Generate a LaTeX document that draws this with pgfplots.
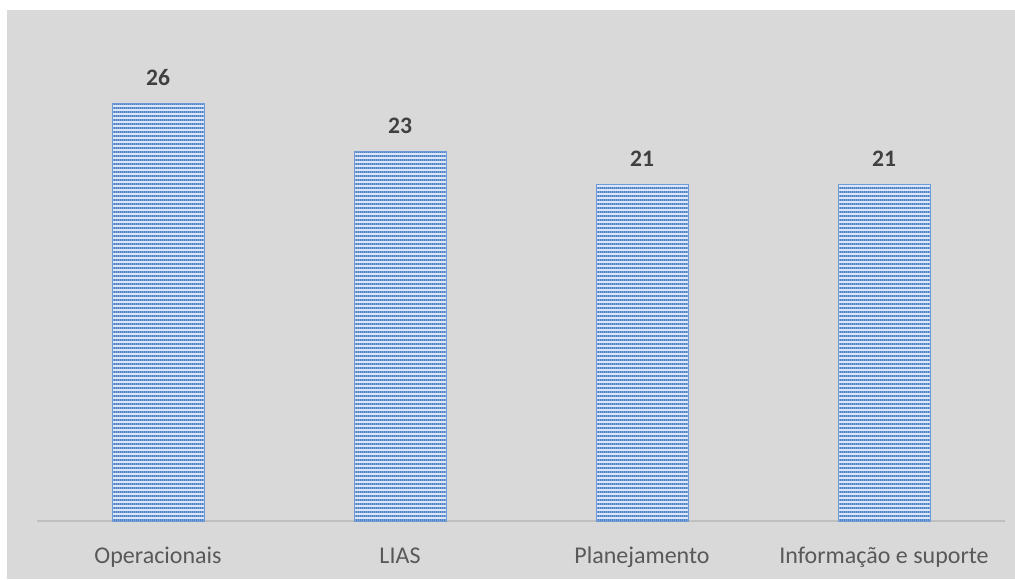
\documentclass[border=0pt]{standalone}
\usepackage{pgfplots}
\pgfplotsset{compat=1.18}
\usepackage{fontspec}
\setmainfont{Carlito}
\usetikzlibrary{patterns.meta}
\definecolor{bg}{HTML}{D9D9D9}
\definecolor{stripe}{HTML}{4F7FC8}
\definecolor{barfill}{HTML}{DCE7F6}
\definecolor{baredge}{HTML}{6E9BD6}
\definecolor{axisgray}{HTML}{BFBFBF}
\definecolor{lbl}{HTML}{595959}
\definecolor{num}{HTML}{404040}
\tikzdeclarepattern{
  name=hstripes,
  type=uncolored,
  bounding box={(0pt,0pt) and (1pt,2.1pt)},
  tile size={(1pt,2.1pt)},
  code={\pgfsetlinewidth{1.1pt}\pgfpathmoveto{\pgfpoint{-0.2pt}{0.6pt}}\pgfpathlineto{\pgfpoint{1.2pt}{0.6pt}}\pgfusepath{stroke}}
}
\begin{document}
\begin{tikzpicture}
\useasboundingbox (-18.5pt,-29pt) rectangle (489pt,260.5pt);
\fill[white] (-18.5pt,-29pt) rectangle (489pt,260.5pt);
\fill[bg] (-15pt,-29pt) rectangle (489pt,255.5pt);
\begin{axis}[
  at={(0,0)}, anchor=south west,
  scale only axis,
  width=484pt, height=245.5pt,
  xmin=-0.5, xmax=3.5,
  ymin=0, ymax=30.6,
  axis x line*=bottom,
  axis y line=none,
  x axis line style={-, draw=axisgray, line width=1.2pt},
  xtick=data,
  xticklabels={Operacionais, LIAS, Planejamento, Informação e suporte},
  major tick length=0pt,
  xticklabel style={anchor=base, yshift=-21pt, font=\fontsize{12}{14}\selectfont, text=lbl},
  ybar, bar width=46pt,
  nodes near coords={\textbf{\pgfmathprintnumber\pgfplotspointmeta}},
  nodes near coords style={anchor=base, yshift=9pt, font=\fontsize{11.8}{14}\selectfont, text=num},
  /pgf/number format/assume math mode=true,
  clip=false,
]
\addplot[draw=baredge, line width=0.5pt, fill=barfill, postaction={pattern=hstripes, pattern color=stripe}]
  coordinates {(0,26) (1,23) (2,21) (3,21)};
\end{axis}
\end{tikzpicture}
\end{document}
